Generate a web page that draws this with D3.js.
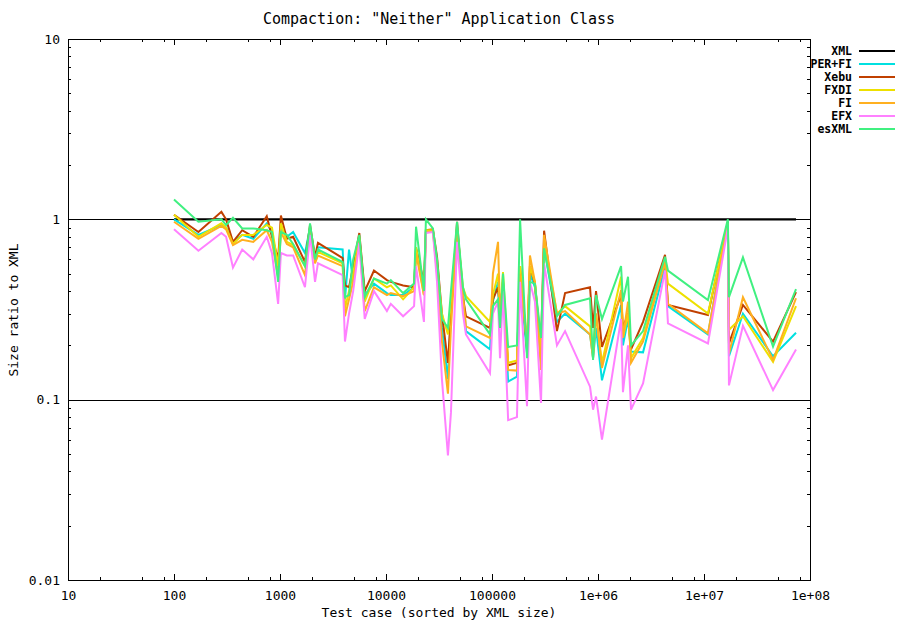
<!DOCTYPE html>
<html>
<head>
<meta charset="utf-8">
<script src="https://cdn.jsdelivr.net/npm/d3@7"></script>
<style>
  body { margin: 0; background: #fff; }
  text { font-family: "DejaVu Sans Mono", "Liberation Mono", monospace; fill: #000; }
</style>
</head>
<body>
<div id="chart"></div>
<script>
// test case sizes (XML bytes), sorted
var sizes = [100, 170, 280, 310, 360, 440, 560, 750, 840, 960, 1020, 1160, 1330, 1720, 1920, 2140, 2280,
  3900, 4100, 4480, 4900, 5600, 6300, 7700, 10200, 11100, 14500, 18400, 19200, 22800, 23800, 27700,
  30300, 33700, 38400, 41000, 46800, 53200, 56800, 95700, 102000, 114000, 119000, 127000, 142000,
  172000, 184000, 214000, 228000, 254000, 290000, 310000, 410000, 489000, 841000, 898000, 958000,
  1090000, 1650000, 1720000, 1920000, 2050000, 2660000, 4290000, 4570000, 10900000, 16800000,
  17200000, 23300000, 44800000, 73800000];

var xml = sizes.map(function() { return 1; });

var perfi = [1.0, 0.82, 0.93, 0.9, 0.75, 0.82, 0.78, 0.95, 0.85, 0.5, 0.9, 0.8, 0.85, 0.65, 0.9, 0.6, 0.7,
  0.68, 0.36, 0.68, 0.45, 0.8, 0.38, 0.44, 0.39, 0.38, 0.38, 0.42, 0.7, 0.4, 0.87, 0.87,
  0.55, 0.25, 0.13, 0.3, 0.9, 0.4, 0.24, 0.19, 0.35, 0.45, 0.25, 0.45, 0.126,
  0.134, 0.45, 0.18, 0.5, 0.42, 0.16, 0.7, 0.27, 0.3, 0.23, 0.17, 0.25,
  0.128, 0.335, 0.2, 0.28, 0.185, 0.183, 0.545, 0.33, 0.23, 0.97,
  0.174, 0.30, 0.174, 0.235];

var xebu = [1.06, 0.85, 1.10, 1.0, 0.75, 0.87, 0.80, 1.04, 0.8, 0.6, 1.05, 0.78, 0.8, 0.58, 0.93, 0.62, 0.74,
  0.61, 0.43, 0.42, 0.55, 0.84, 0.40, 0.52, 0.46, 0.45, 0.43, 0.42, 0.69, 0.45, 0.87, 0.88,
  0.62, 0.3, 0.16, 0.3, 0.97, 0.37, 0.29, 0.25, 0.36, 0.42, 0.3, 0.45, 0.155,
  0.16, 0.55, 0.19, 0.55, 0.44, 0.2, 0.865, 0.24, 0.39, 0.42, 0.25, 0.40,
  0.196, 0.38, 0.25, 0.3, 0.19, 0.27, 0.635, 0.335, 0.295, 0.97,
  0.205, 0.335, 0.21, 0.395];

var fxdi = [1.06, 0.80, 0.95, 0.9, 0.73, 0.82, 0.82, 0.93, 0.9, 0.55, 0.95, 0.75, 0.72, 0.55, 0.9, 0.6, 0.66,
  0.57, 0.32, 0.4, 0.5, 0.8, 0.35, 0.47, 0.42, 0.43, 0.36, 0.42, 0.7, 0.38, 0.87, 0.87,
  0.55, 0.3, 0.23, 0.35, 0.9, 0.42, 0.375, 0.27, 0.38, 0.5, 0.3, 0.51, 0.16,
  0.165, 0.55, 0.2, 0.55, 0.45, 0.17, 0.75, 0.3, 0.33, 0.255, 0.18, 0.3,
  0.16, 0.48, 0.22, 0.3, 0.17, 0.22, 0.6, 0.44, 0.30, 0.95,
  0.244, 0.29, 0.162, 0.33];

var fi = [0.97, 0.78, 0.92, 0.88, 0.72, 0.77, 0.75, 0.87, 0.75, 0.48, 0.85, 0.73, 0.7, 0.49, 0.88, 0.57, 0.63,
  0.55, 0.29, 0.36, 0.45, 0.77, 0.31, 0.42, 0.38, 0.39, 0.375, 0.40, 0.65, 0.38, 0.85, 0.86,
  0.5, 0.21, 0.108, 0.25, 0.9, 0.38, 0.255, 0.22, 0.5, 0.75, 0.3, 0.45, 0.146,
  0.145, 0.5, 0.2, 0.63, 0.45, 0.146, 0.82, 0.3, 0.31, 0.23, 0.17, 0.3,
  0.15, 0.405, 0.22, 0.35, 0.16, 0.21, 0.58, 0.34, 0.233, 0.95,
  0.18, 0.37, 0.166, 0.365];

var efx = [0.88, 0.67, 0.84, 0.8, 0.54, 0.68, 0.6, 0.80, 0.65, 0.34, 0.65, 0.63, 0.63, 0.42, 0.82, 0.45, 0.57,
  0.49, 0.21, 0.3, 0.4, 0.74, 0.28, 0.40, 0.31, 0.34, 0.29, 0.33, 0.55, 0.27, 0.84, 0.85,
  0.45, 0.13, 0.049, 0.085, 0.75, 0.3, 0.23, 0.14, 0.3, 0.35, 0.17, 0.4, 0.077,
  0.08, 0.45, 0.092, 0.45, 0.35, 0.096, 0.57, 0.20, 0.24, 0.118, 0.088, 0.104,
  0.06, 0.28, 0.11, 0.2, 0.088, 0.123, 0.52, 0.265, 0.205, 0.9,
  0.12, 0.257, 0.113, 0.19];

var esxml = [1.29, 0.97, 1.0, 0.93, 1.02, 0.89, 0.89, 0.87, 0.85, 0.45, 0.85, 0.82, 0.73, 0.55, 0.95, 0.6, 0.68,
  0.58, 0.37, 0.38, 0.6, 0.82, 0.37, 0.47, 0.44, 0.46, 0.39, 0.44, 0.91, 0.40, 1.0, 0.89,
  0.6, 0.28, 0.25, 0.4, 0.97, 0.42, 0.36, 0.23, 0.33, 0.36, 0.25, 0.5, 0.196,
  0.20, 1.0, 0.17, 0.45, 0.44, 0.22, 0.69, 0.29, 0.335, 0.365, 0.166, 0.38,
  0.28, 0.55, 0.35, 0.48, 0.2, 0.24, 0.62, 0.52, 0.357, 1.0,
  0.37, 0.615, 0.197, 0.41];

var seriesNames = ["XML", "PER+FI", "Xebu", "FXDI", "FI", "EFX", "esXML"];
var seriesColors = ["#000000", "#00e0e0", "#c04000", "#eee000", "#ffb020", "#ff80ff", "#40f080"];
var seriesValues = [xml, perfi, xebu, fxdi, fi, efx, esxml];

var xMajor = [10, 100, 1000, 10000, 100000, 1e6, 1e7, 1e8];
var xLabels = ["10", "100", "1000", "10000", "100000", "1e+06", "1e+07", "1e+08"];
var yMajor = [0.01, 0.1, 1, 10];
var yLabels = ["0.01", "0.1", "1", "10"];

var W = 907, H = 621;
var pLeft = 68, pRight = 810, pTop = 39, pBottom = 580;

var svg = d3.select("#chart").append("svg")
  .attr("width", W)
  .attr("height", H);

var x = d3.scaleLog().domain([10, 1e8]).range([pLeft, pRight]);
var y = d3.scaleLog().domain([0.01, 10]).range([pBottom, pTop]);

// minor tick values
var xMinor = [];
xMajor.slice(0, -1).forEach(function(d) { [2, 5, 8].forEach(function(m) { xMinor.push(d * m); }); });
var yMinor = [];
yMajor.slice(0, -1).forEach(function(d) { d3.range(2, 10).forEach(function(m) { yMinor.push(d * m); }); });

// grid lines at 1 and 0.1
svg.append("g").selectAll("line")
  .data([0.1, 1])
  .enter().append("line")
  .attr("x1", pLeft).attr("x2", pRight)
  .attr("y1", function(d) { return Math.round(y(d)) + 0.5; })
  .attr("y2", function(d) { return Math.round(y(d)) + 0.5; })
  .attr("stroke", "#000")
  .attr("stroke-width", 1)
  .attr("shape-rendering", "crispEdges");

function drawAxis(axis, transform) {
  var g = svg.append("g").attr("transform", transform).call(axis);
  g.select(".domain").remove();
  g.selectAll("line").attr("stroke", "#000").attr("shape-rendering", "crispEdges");
  g.selectAll("text").style("font-size", "13px").style("font-family", "'DejaVu Sans Mono', monospace");
  return g;
}

// bottom axis
drawAxis(d3.axisBottom(x).tickValues(xMajor).tickSize(-6).tickPadding(11)
  .tickFormat(function(d, i) { return xLabels[i]; }), "translate(0," + pBottom + ")");
drawAxis(d3.axisBottom(x).tickValues(xMinor).tickSize(-3).tickFormat(""), "translate(0," + pBottom + ")");
// top axis
drawAxis(d3.axisTop(x).tickValues(xMajor).tickSize(-6).tickFormat(""), "translate(0," + pTop + ")");
drawAxis(d3.axisTop(x).tickValues(xMinor).tickSize(-3).tickFormat(""), "translate(0," + pTop + ")");
// left axis
drawAxis(d3.axisLeft(y).tickValues(yMajor).tickSize(-6).tickPadding(8)
  .tickFormat(function(d, i) { return yLabels[i]; }), "translate(" + pLeft + ",0)");
drawAxis(d3.axisLeft(y).tickValues(yMinor).tickSize(-3).tickFormat(""), "translate(" + pLeft + ",0)");
// right axis
drawAxis(d3.axisRight(y).tickValues(yMajor).tickSize(-6).tickFormat(""), "translate(" + pRight + ",0)");
drawAxis(d3.axisRight(y).tickValues(yMinor).tickSize(-3).tickFormat(""), "translate(" + pRight + ",0)");

// series lines
var line = d3.line()
  .x(function(d) { return x(d[0]); })
  .y(function(d) { return y(d[1]); });

seriesValues.forEach(function(vals, i) {
  svg.append("path")
    .datum(sizes.map(function(s, j) { return [s, vals[j]]; }))
    .attr("d", line)
    .attr("fill", "none")
    .attr("stroke", seriesColors[i])
    .attr("stroke-width", i === 0 ? 2.4 : 2)
    .attr("stroke-linejoin", "miter");
});

// frame
svg.append("rect")
  .attr("x", pLeft + 0.5).attr("y", pTop + 0.5)
  .attr("width", pRight - pLeft).attr("height", pBottom - pTop)
  .attr("fill", "none")
  .attr("stroke", "#000")
  .attr("shape-rendering", "crispEdges");

// legend
var legend = svg.append("g");
seriesNames.forEach(function(name, i) {
  var ly = 51 + i * 13;
  legend.append("text")
    .attr("x", 852).attr("y", ly)
    .attr("dy", "0.35em")
    .attr("text-anchor", "end")
    .style("font-size", "11.5px")
    .style("font-weight", "bold")
    .text(name);
  legend.append("line")
    .attr("x1", 859).attr("x2", 895)
    .attr("y1", ly).attr("y2", ly)
    .attr("stroke", seriesColors[i])
    .attr("stroke-width", 2);
});

// titles
svg.append("text")
  .attr("x", 439).attr("y", 19)
  .attr("dy", "0.35em")
  .attr("text-anchor", "middle")
  .style("font-size", "15px")
  .text('Compaction: "Neither" Application Class');

svg.append("text")
  .attr("x", 439).attr("y", 612)
  .attr("dy", "0.35em")
  .attr("text-anchor", "middle")
  .style("font-size", "13px")
  .text("Test case (sorted by XML size)");

svg.append("text")
  .attr("transform", "translate(13,310) rotate(-90)")
  .attr("dy", "0.35em")
  .attr("text-anchor", "middle")
  .style("font-size", "13px")
  .text("Size ratio to XML");
</script>
</body>
</html>
